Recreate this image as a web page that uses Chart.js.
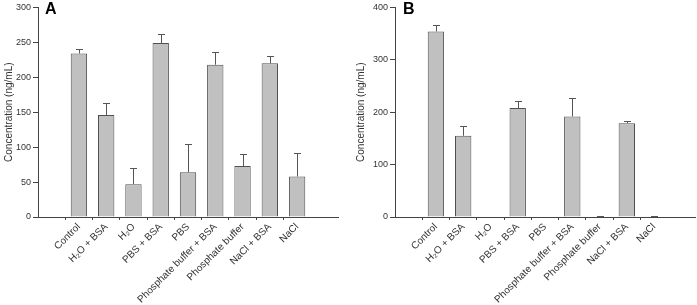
<!DOCTYPE html>
<html>
<head>
<meta charset="utf-8">
<script src="https://cdn.jsdelivr.net/npm/chart.js@4.4.1/dist/chart.umd.min.js"></script>
<style>
  html, body { margin: 0; padding: 0; background: #fff; }
  .wrap { display: flex; width: 697px; height: 305px; }
  .panel { position: relative; height: 305px; }
</style>
</head>
<body>
<div class="wrap">
  <div class="panel" style="width:348px"><canvas id="chartA"></canvas></div>
  <div class="panel" style="width:349px"><canvas id="chartB"></canvas></div>
</div>
<script>
var categories = ["Control", "H\u2082O + BSA", "H\u2082O", "PBS + BSA", "PBS",
  "Phosphate buffer + BSA", "Phosphate buffer", "NaCl + BSA", "NaCl"];

// panel A
var valuesA = [234, 146, 47, 249, 64, 218, 73, 220, 58];
var errorsA = [7, 17, 23, 13, 40, 18, 17, 10, 33];
var ticksA = [0, 50, 100, 150, 200, 250, 300];

// panel B
var valuesB = [354, 155, 0, 208, 0, 192, 0, 179, 0];
var errorsB = [12, 18, 0, 14, 0, 36, 1, 4, 1];
var ticksB = [0, 100, 200, 300, 400];

var axisColor = "#444";
var textColor = "#333";

// one-sided error bars with caps, drawn through the scales
var errorBars = {
  id: "errorBars",
  afterDatasetsDraw: function(chart, args, opts) {
    var ctx = chart.ctx;
    var xs = chart.scales.x, ys = chart.scales.y;
    var vals = chart.data.datasets[0].data;
    ctx.save();
    ctx.strokeStyle = "#555";
    ctx.lineWidth = 1;
    vals.forEach(function(p, i) {
      var e = opts.errors[i];
      if (!e) return;
      var x = Math.round(xs.getPixelForValue(p.x)) + 0.5;
      var y0 = ys.getPixelForValue(p.y);
      var y1 = Math.round(ys.getPixelForValue(p.y + e)) + 0.5;
      ctx.beginPath();
      ctx.moveTo(x, y0);
      ctx.lineTo(x, y1);
      ctx.moveTo(x - 3.5, y1);
      ctx.lineTo(x + 3.5, y1);
      ctx.stroke();
    });
    ctx.restore();
  }
};

var panelLabel = {
  id: "panelLabel",
  afterDraw: function(chart, args, opts) {
    var ctx = chart.ctx;
    ctx.save();
    ctx.fillStyle = "#000";
    ctx.font = "bold 16px 'Liberation Sans', Arial, sans-serif";
    ctx.textBaseline = "top";
    ctx.fillText(opts.text, chart.chartArea.left + opts.dx, 2);
    ctx.restore();
  }
};

function makeChart(id, values, errors, ticks, letter, yWidth, padLeft, padRight, labelDx) {
  var pts = values.map(function(v, i) { return { x: i, y: v }; });
  return new Chart(document.getElementById(id), {
    type: "bar",
    data: {
      datasets: [{
        data: pts,
        backgroundColor: "#c0c0c0",
        borderColor: "#505050",
        borderWidth: 1,
        barPercentage: 0.6,
        categoryPercentage: 1
      }]
    },
    options: {
      responsive: true,
      maintainAspectRatio: false,
      animation: false,
      layout: { padding: { left: padLeft, right: padRight, top: 7, bottom: 0 } },
      plugins: {
        legend: { display: false },
        tooltip: { enabled: false },
        errorBars: { errors: errors },
        panelLabel: { text: letter, dx: labelDx }
      },
      scales: {
        x: {
          type: "linear",
          min: -1,
          max: 9,
          afterBuildTicks: function(s) {
            s.ticks = [];
            for (var i = -1; i <= 9; i++) s.ticks.push({ value: i });
          },
          afterFit: function(s) { s.height = 88; },
          grid: {
            drawOnChartArea: false,
            tickLength: 3,
            tickColor: function(c) {
              return (c.tick && c.tick.value >= 0 && c.tick.value <= 8) ? axisColor : "rgba(0,0,0,0)";
            }
          },
          border: { color: axisColor, width: 1 },
          ticks: {
            autoSkip: false,
            minRotation: 45,
            maxRotation: 45,
            padding: 1,
            color: textColor,
            font: { family: "'Liberation Sans', Arial, sans-serif", size: 10 },
            callback: function(v) { return categories[v] !== undefined ? categories[v] : ""; }
          }
        },
        y: {
          min: ticks[0],
          max: ticks[ticks.length - 1],
          afterBuildTicks: function(s) {
            s.ticks = ticks.map(function(t) { return { value: t }; });
          },
          afterFit: function(s) { s.width = yWidth; },
          grid: { drawOnChartArea: false, tickLength: 5, tickColor: axisColor },
          border: { color: axisColor, width: 1 },
          ticks: {
            padding: 2,
            color: textColor,
            font: { family: "'Liberation Sans', Arial, sans-serif", size: 9 }
          },
          title: {
            display: true,
            text: "Concentration (ng/mL)",
            color: textColor,
            padding: 0,
            font: { family: "'Liberation Sans', Arial, sans-serif", size: 10 }
          }
        }
      }
    },
    plugins: [errorBars, panelLabel]
  });
}

makeChart("chartA", valuesA, errorsA, ticksA, "A", 35, 3, 10, 7);
makeChart("chartB", valuesB, errorsB, ticksB, "B", 40, 7, 2, 8);
</script>
</body>
</html>
